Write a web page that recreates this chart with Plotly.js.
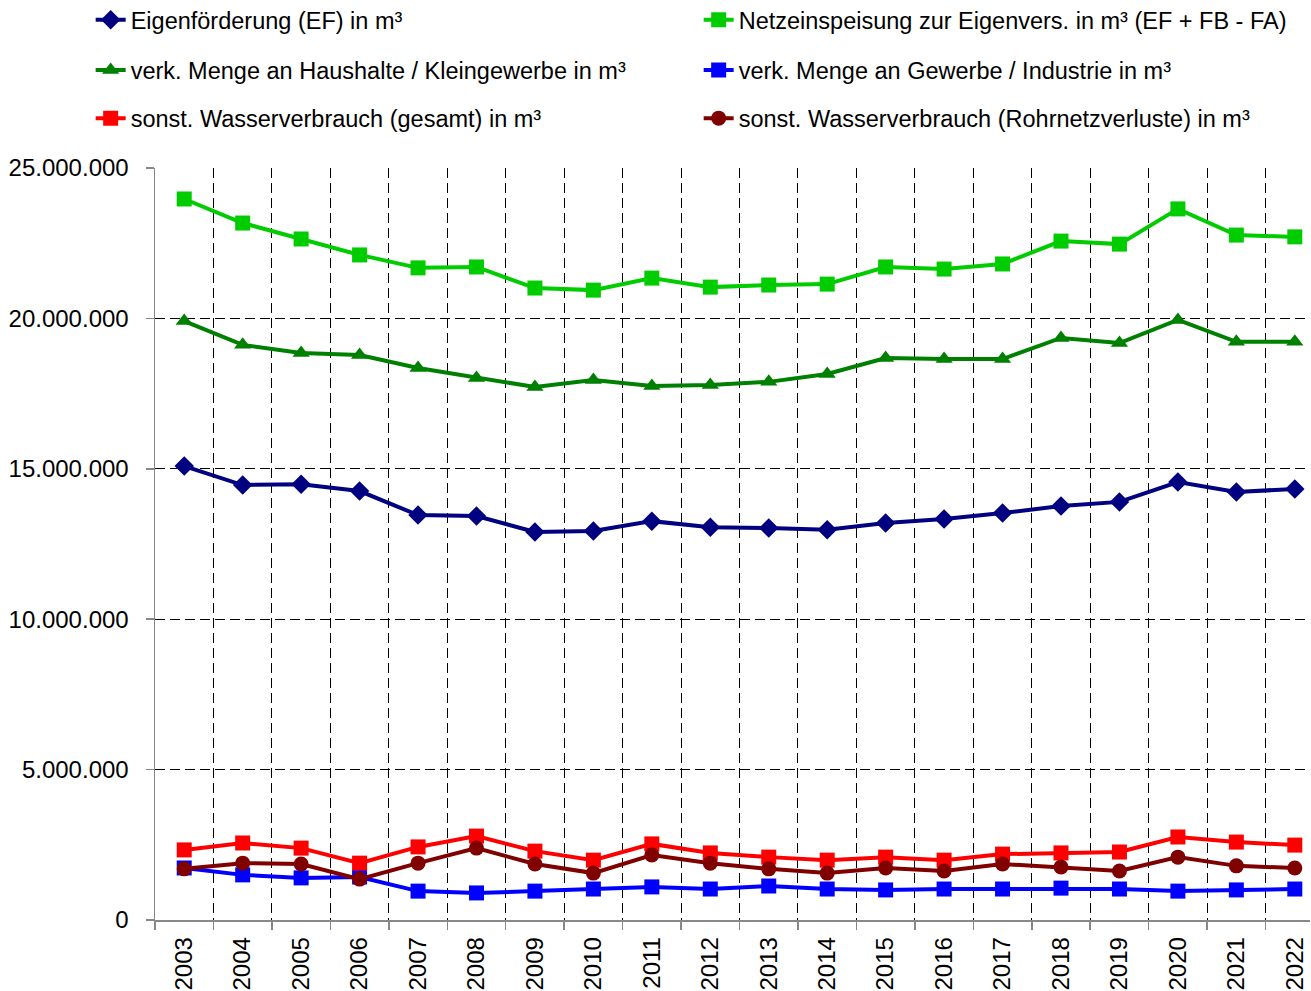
<!DOCTYPE html>
<html>
<head>
<meta charset="utf-8">
<script src="https://cdn.plot.ly/plotly-3.0.1.min.js"></script>
<style>html,body{margin:0;padding:0;background:#fff;}#chart{width:1311px;height:991px;}</style>
</head>
<body>
<div id="chart"></div>
<script>
const years = ["2003","2004","2005","2006","2007","2008","2009","2010","2011","2012","2013","2014","2015","2016","2017","2018","2019","2020","2021","2022"];
const eigenfoerderung = [15090000,14460000,14490000,14260000,13460000,13430000,12900000,12930000,13260000,13060000,13030000,12970000,13200000,13330000,13530000,13760000,13900000,14560000,14230000,14330000];
const netzeinspeisung = [23970000,23170000,22640000,22110000,21680000,21710000,21010000,20940000,21340000,21040000,21110000,21140000,21710000,21640000,21810000,22570000,22470000,23640000,22770000,22710000];
const haushalte = [19910000,19120000,18850000,18780000,18350000,18020000,17720000,17950000,17750000,17790000,17890000,18150000,18680000,18650000,18650000,19350000,19180000,19950000,19220000,19220000];
const gewerbe = [1730000,1500000,1400000,1430000,960000,900000,960000,1030000,1100000,1030000,1130000,1030000,1000000,1030000,1030000,1060000,1030000,960000,1000000,1030000];
const sonstGesamt = [2330000,2560000,2390000,1890000,2430000,2790000,2290000,1990000,2530000,2230000,2090000,1990000,2090000,1990000,2190000,2230000,2260000,2760000,2590000,2490000];
const rohrnetz = [1700000,1890000,1860000,1360000,1890000,2390000,1860000,1560000,2160000,1890000,1700000,1560000,1730000,1630000,1860000,1760000,1630000,2090000,1800000,1730000];

const names = [
  "Eigenförderung (EF) in m³",
  "Netzeinspeisung zur Eigenvers. in m³ (EF + FB - FA)",
  "verk. Menge an Haushalte / Kleingewerbe in m³",
  "verk. Menge an Gewerbe / Industrie in m³",
  "sonst. Wasserverbrauch (gesamt) in m³",
  "sonst. Wasserverbrauch (Rohrnetzverluste) in m³"
];

function tr(y, name, color, symbol, size, legend) {
  return {
    type: "scatter", mode: "lines+markers", x: years, y: y, name: name,
    line: {color: color, width: 4},
    marker: {color: color, symbol: symbol, size: size},
    legend: legend
  };
}

const data = [
  tr(eigenfoerderung, names[0], "#000080", "diamond", 15, "legend"),
  tr(netzeinspeisung, names[1], "#00CC00", "square", 15, "legend"),
  tr(haushalte, names[2], "#008000", "triangle-up", 15, "legend2"),
  tr(gewerbe, names[3], "#0000FF", "square", 15, "legend2"),
  tr(sonstGesamt, names[4], "#FF0000", "square", 15, "legend3"),
  tr(rohrnetz, names[5], "#800000", "circle", 15, "legend3")
];

const legFont = {family: "Liberation Sans, Arial, sans-serif", size: 23.5, color: "#000"};
function leg(y) {
  return {
    orientation: "h", x: -0.0557, xanchor: "left", y: y, yanchor: "middle",
    font: legFont, entrywidth: 563, entrywidthmode: "pixels",
    bgcolor: "rgba(0,0,0,0)", borderwidth: 0, traceorder: "normal"
  };
}

const layout = {
  width: 1311, height: 991,
  margin: {l: 155, r: 1, t: 168, b: 71, pad: 0, autoexpand: false},
  paper_bgcolor: "#fff", plot_bgcolor: "#fff",
  separators: ",.",
  font: {family: "Liberation Sans, Arial, sans-serif", size: 22, color: "#000"},
  showlegend: true,
  legend: leg(1.197),
  legend2: leg(1.130),
  legend3: leg(1.066),
  xaxis: {
    type: "category", range: [-0.5, 19.26], tickson: "boundaries",
    showgrid: true, gridcolor: "#000", griddash: "10px,5px", gridwidth: 1,
    showline: true, linecolor: "#888", linewidth: 1.5,
    ticks: "outside", ticklen: 8, tickcolor: "#888", tickwidth: 1.5,
    ticklabelstandoff: 6,
    tickangle: -90, tickfont: {size: 24}, zeroline: false
  },
  yaxis: {
    range: [0, 25000000], tickvals: [0,5000000,10000000,15000000,20000000,25000000],
    tickformat: ",d",
    showgrid: true, gridcolor: "#000", griddash: "10px,5px", gridwidth: 1,
    showline: true, linecolor: "#888", linewidth: 1.5,
    ticks: "outside", ticklen: 8, tickcolor: "#888", tickwidth: 1.5,
    ticklabelstandoff: 12, tickfont: {size: 24}, zeroline: false
  }
};

Plotly.newPlot("chart", data, layout, {displayModeBar: false, staticPlot: true});
</script>
</body>
</html>
